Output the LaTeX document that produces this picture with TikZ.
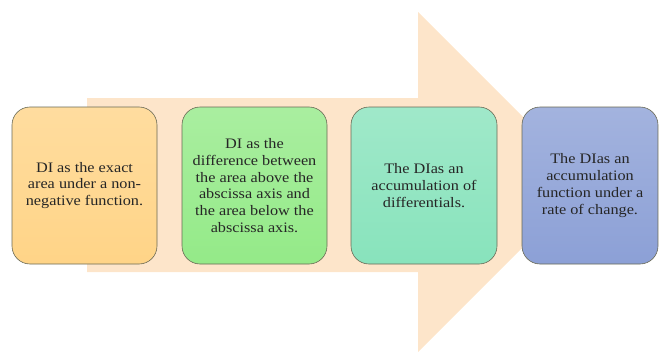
\documentclass[tikz,border=0pt]{standalone}
\usepackage{fontspec}
\setmainfont[FakeStretch=1.12]{Liberation Serif}
\definecolor{arrowfill}{RGB}{253,229,202}
\definecolor{stepA}{RGB}{255,212,135}
\definecolor{stepB}{RGB}{148,234,136}
\definecolor{stepC}{RGB}{136,227,188}
\definecolor{stepD}{RGB}{140,160,214}
\definecolor{edge}{RGB}{105,105,85}
\tikzset{
  stepbox/.style={draw=edge,line width=0.6pt,rounded corners=18pt,align=center,
    minimum height=157pt,inner sep=2pt,text=black!85,font=\fontsize{14.5}{16.7}\selectfont}
}
\begin{document}
\begin{tikzpicture}[x=1pt,y=-1pt]
\useasboundingbox (0,0) rectangle (659,356);
% big background arrow
\fill[arrowfill] (87,98) -- (418,98) -- (418,12) -- (588,182) -- (418,352) -- (418,272) -- (87,272) -- cycle;
% the four steps
\foreach \n/\cx/\w/\c/\t in {
  a/84.5/145/stepA/{DI as the exact\\area under a non-\\negative function.},
  b/254.5/145/stepB/{DI as the\\difference between\\the area above the\\abscissa axis and\\the area below the\\abscissa axis.},
  c/424/146/stepC/{The DIas an\\accumulation of\\differentials.},
  d/590/136/stepD/{The DIas an\\accumulation\\function under a\\rate of change.}} {
  \node[stepbox,minimum width=\w pt,top color=\c!80!white,bottom color=\c] (step\n) at (\cx,185.5) {\t};
}
\end{tikzpicture}
\end{document}
